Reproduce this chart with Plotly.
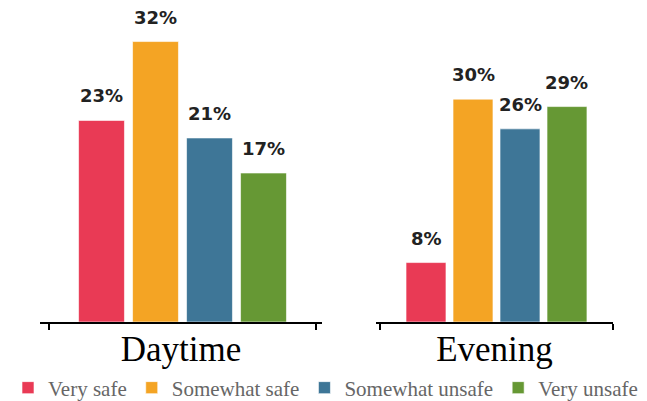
import plotly.graph_objects as go

categories = ["Very safe", "Somewhat safe", "Somewhat unsafe", "Very unsafe"]
daytime = [23, 32, 21, 17]
evening = [8, 30, 26, 29]
periods = ["Daytime", "Evening"]
colors = ["#E93A55", "#F4A424", "#3E7697", "#669834"]

fig = go.Figure()
for i, cat in enumerate(categories):
    for j, (vals, xa, ya) in enumerate([(daytime, "x", "y"), (evening, "x2", "y2")]):
        fig.add_trace(go.Bar(
            x=[i], y=[vals[i]], name=cat, legendgroup=cat, showlegend=(j == 0),
            marker=dict(color=colors[i], line=dict(color="rgba(255,255,255,0.6)", width=1)),
            width=0.85, xaxis=xa, yaxis=ya, hoverinfo="skip"))
        fig.add_annotation(x=i, y=vals[i], xref=xa, yref=ya, text=f"{vals[i]}%",
                           showarrow=False, yanchor="bottom", yshift=12,
                           font=dict(family="DejaVu Sans", size=18, color="#222222", weight="bold"))

axis_common = dict(showline=True, linecolor="black", linewidth=2, ticks="outside",
                   ticklen=6, tickwidth=2, tickcolor="black", showticklabels=False,
                   showgrid=False, zeroline=False, fixedrange=True)
W = 647
fig.update_layout(
    width=W, height=401,
    margin=dict(l=0, r=0, t=2, b=87),
    plot_bgcolor="white", paper_bgcolor="white",
    xaxis=dict(domain=[32/W, 314/W], range=[-1.139, 4.083], tickvals=[-0.972, 3.972],
               title=dict(text=periods[0], standoff=7,
                          font=dict(family="Liberation Serif", size=35, color="black")),
               **axis_common),
    xaxis2=dict(domain=[368/W, 605/W], range=[-1.064, 3.979], tickvals=[-0.98, 3.97],
                title=dict(text=periods[1], standoff=7,
                           font=dict(family="Liberation Serif", size=35, color="black")),
                **axis_common),
    yaxis=dict(range=[0, 35.6], visible=False, fixedrange=True),
    yaxis2=dict(range=[0, 42.0], visible=False, fixedrange=True, anchor="x2"),
    legend=dict(orientation="h", x=0.49, xanchor="center", y=-0.2115, yanchor="middle",
                font=dict(family="Liberation Serif", size=21, color="#666666"),
                itemclick=False, itemdoubleclick=False),
    showlegend=True,
)
fig.write_html("out.html")
